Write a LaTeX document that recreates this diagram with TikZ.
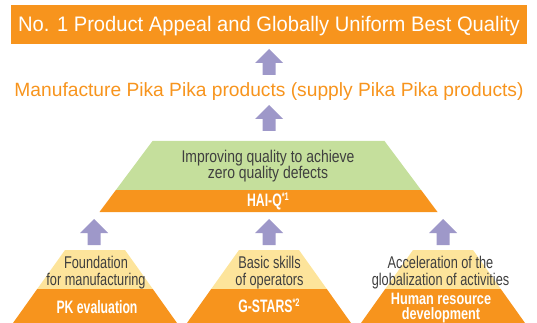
\documentclass[tikz,border=0pt]{standalone}
\usepackage{fontspec}
\setmainfont{Liberation Sans}
\newfontfamily\bannerfam[FakeStretch=0.96]{Liberation Sans}
\newfontfamily\goalfam{Liberation Sans}
\newfontfamily\midfam[FakeStretch=0.82]{Liberation Sans}
\newfontfamily\lowfam[FakeStretch=0.75]{Liberation Sans}
\newfontfamily\labelfam[FakeStretch=0.68]{Liberation Sans Bold}
\newfontfamily\widelabelfam[FakeStretch=0.77]{Liberation Sans Bold}

\definecolor{pkorange}{HTML}{F7941D}
\definecolor{pkgreen}{HTML}{C5DF9C}
\definecolor{pkyellow}{HTML}{FDE49B}
\definecolor{pkviolet}{HTML}{9E98C9}
\definecolor{pkgray}{HTML}{3F3F3F}

\tikzset{
  uparrow/.pic={\fill[pkviolet] (0,0) -- (14,14) -- (6.5,14) -- (6.5,26)
      -- (-6.5,26) -- (-6.5,14) -- (-14,14) -- cycle;},
  linetext/.style={inner sep=0pt, anchor=base},
  bannertext/.style={linetext, text=white, font=\bannerfam\fontsize{21}{24}\selectfont},
  goaltext/.style={linetext, text=pkorange, font=\goalfam\fontsize{19.2}{22}\selectfont},
  midtext/.style={linetext, text=pkgray, font=\midfam\fontsize{17}{18}\selectfont},
  lowtext/.style={linetext, text=pkgray, font=\lowfam\fontsize{17}{18}\selectfont},
  labeltext/.style={linetext, text=white, font=\labelfam\fontsize{18}{19}\selectfont},
  widelabeltext/.style={inner sep=0pt, text=white, align=center,
      font=\widelabelfam\fontsize{16.5}{15}\selectfont},
}
\newcommand\notemark[1]{\raisebox{6pt}{\fontsize{11}{11}\selectfont #1}}

\begin{document}
\begin{tikzpicture}[x=1pt,y=-1pt]
\useasboundingbox (0,0) rectangle (537,323);

% top banner
\node[fill=pkorange, minimum width=516, minimum height=39, inner sep=0pt,
      anchor=north west] (banner) at (11,5) {};
\node[bannertext] (bannertxt) at (269,32)
  {No. 1 Product Appeal and Globally Uniform Best Quality};

% goal line
\node[goaltext] (goal) at (269,96.5)
  {Manufacture Pika Pika products (supply Pika Pika products)};

% upward block arrows
\pic (upA) at (269,49) {uparrow};
\pic (upB) at (269,105) {uparrow};
\foreach \cx/\nm in {94/upL, 269/upM, 443/upR}
  \pic (\nm) at (\cx,219) {uparrow};

% HAI-Q trapezoid
\fill[pkgreen] (152.5,141) -- (384.5,141) -- (421.1,190) -- (115.9,190) -- cycle;
\fill[pkorange] (115.9,190) -- (421.1,190) -- (437.5,212) -- (99.5,212) -- cycle;
\node[midtext] (haiA) at (268,162) {Improving quality to achieve};
\node[midtext] (haiB) at (268,178) {zero quality defects};
\node[labeltext] (haiq) at (268,206.5) {HAI-Q\notemark{*1}};

% three base pyramids
\foreach \cx in {95,269,443} {
  \fill[pkyellow] (\cx-30,250) -- (\cx+30,250) -- (\cx+57.8,289) -- (\cx-57.8,289) -- cycle;
  \fill[pkorange] (\cx-57.8,289) -- (\cx+57.8,289) -- (\cx+82,323) -- (\cx-82,323) -- cycle;
}

\node[lowtext] (pkA) at (96,268) {Foundation};
\node[lowtext] (pkB) at (96,285) {for manufacturing};
\node[labeltext] (pk) at (97,313) {PK evaluation};

\node[lowtext] (gsA) at (269.5,268) {Basic skills};
\node[lowtext] (gsB) at (269.5,285) {of operators};
\node[labeltext] (gs) at (269,312.5) {G-STARS\notemark{*2}};

\node[lowtext] (hrA) at (440.5,268) {Acceleration of the};
\node[lowtext] (hrB) at (440.5,285) {globalization of activities};
\node[widelabeltext, anchor=north] (hr) at (441,293) {Human resource\\development};
\end{tikzpicture}
\end{document}
